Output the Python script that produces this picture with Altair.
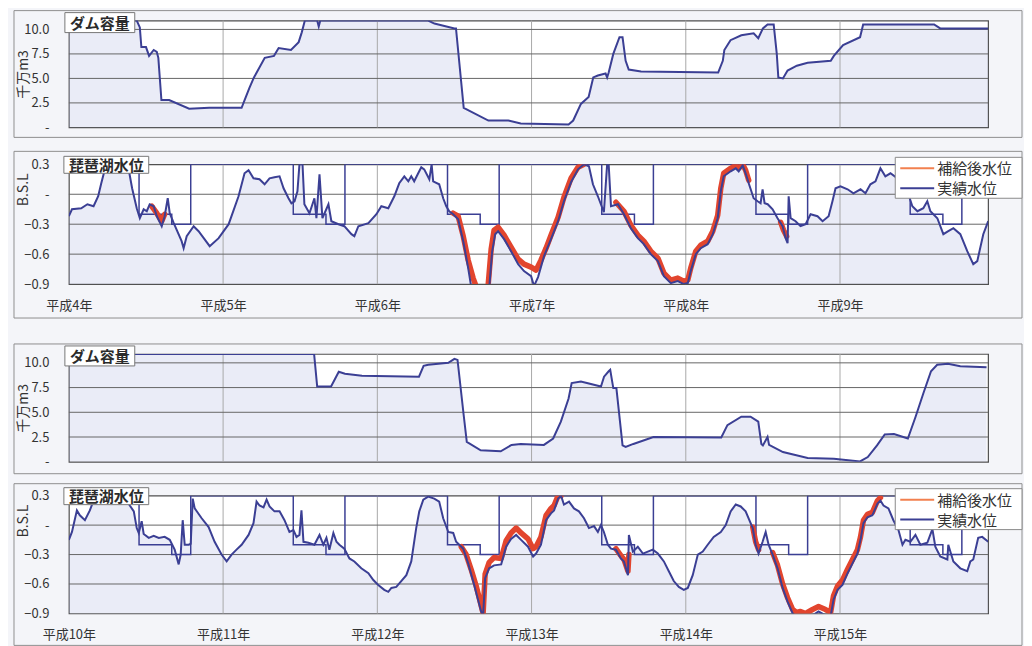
import altair as alt
import pandas as pd

FONT = "Noto Sans CJK JP"
BLUE = "#3b3f94"
RED = "#e2452e"
ORANGE = "#f2804f"
AREA = "#aab2e0"

# x = years elapsed since 1 Jan of the first year of each block
FIRST_YEAR_A = 4    # 平成4年
FIRST_YEAR_B = 10   # 平成10年
YEAR_TICKS = [0, 1, 2, 3, 4, 5]
X_MAX = 5.96
LEGEND_NAMES = ["補給後水位", "実績水位"]
DAM_TICKS = [0, 2.5, 5, 7.5, 10]
LAKE_TICKS = [-0.9, -0.6, -0.3, 0, 0.3]

# ---------- ダム容量 (平成4〜9年) ----------
DAM_A_T = [0.00, 0.44, 0.46, 0.47, 0.50, 0.52, 0.55, 0.57, 0.58, 0.60, 0.65, 0.78, 0.91, 1.12, 1.14,
           1.17, 1.20, 1.27, 1.33, 1.36, 1.44, 1.49, 1.51, 1.53, 1.61, 1.62, 1.63, 2.33, 2.37, 2.50,
           2.51, 2.56, 2.72, 2.85, 2.93, 3.24, 3.27, 3.32, 3.37, 3.40, 3.43, 3.48, 3.49, 3.50, 3.53,
           3.57, 3.59, 3.61, 3.63, 3.71, 4.21, 4.24, 4.25, 4.29, 4.36, 4.44, 4.47, 4.50, 4.53, 4.57,
           4.59, 4.60, 4.63, 4.66, 4.72, 4.79, 4.94, 4.96, 5.02, 5.13, 5.15, 5.61, 5.65, 5.96]
DAM_A_V = [10.9, 10.9, 10.2, 8.2, 8.2, 7.3, 7.9, 7.7, 7.1, 2.8, 2.8, 1.9, 2.0, 2.0, 2.8,
           4.0, 5.1, 7.1, 7.3, 8.1, 7.9, 8.7, 9.7, 10.9, 10.9, 10.3, 10.9, 10.9, 10.6, 10.1,
           10.1, 2.0, 0.7, 0.7, 0.4, 0.3, 0.7, 2.4, 3.1, 5.1, 5.3, 5.5, 5.1, 5.6, 7.5,
           9.2, 9.2, 6.8, 5.9, 5.7, 5.6, 6.8, 7.9, 8.9, 9.4, 9.6, 9.1, 10.1, 10.5, 10.5,
           7.5, 5.1, 5.0, 5.8, 6.3, 6.6, 6.8, 7.3, 8.4, 9.2, 10.5, 10.5, 10.1, 10.1]

# ---------- ダム容量 (平成10〜15年) ----------
DAM_B_T = [0.00, 1.59, 1.61, 1.70, 1.75, 1.79, 1.90, 2.27, 2.30, 2.33, 2.46, 2.50, 2.52, 2.56, 2.58,
           2.67, 2.80, 2.87, 2.93, 3.08, 3.14, 3.19, 3.24, 3.26, 3.32, 3.45, 3.47, 3.50, 3.51, 3.53,
           3.55, 3.59, 3.61, 3.66, 3.79, 4.23, 4.27, 4.36, 4.42, 4.47, 4.49, 4.50, 4.53, 4.54, 4.63,
           4.79, 4.96, 5.13, 5.18, 5.24, 5.29, 5.35, 5.44, 5.49, 5.54, 5.59, 5.63, 5.70, 5.78, 5.95]
DAM_B_V = [10.9, 10.9, 7.6, 7.6, 9.1, 8.9, 8.7, 8.6, 9.7, 9.8, 10.0, 10.4, 10.3, 4.7, 2.0,
           1.15, 1.05, 1.7, 1.8, 1.7, 2.35, 4.05, 6.4, 7.96, 8.1, 7.6, 8.6, 9.15, 9.3, 7.45,
           7.45, 1.65, 1.5, 1.8, 2.5, 2.45, 3.7, 4.55, 4.55, 4.05, 1.8, 1.65, 2.5, 1.7, 0.98,
           0.37, 0.31, 0.03, 0.47, 1.65, 2.75, 2.8, 2.35, 4.55, 6.9, 9.15, 9.8, 9.9, 9.65, 9.55]

# ---------- 琵琶湖水位 実績 (平成4〜9年) ----------
LAKE_A_T = [0.00, 0.02, 0.08, 0.12, 0.16, 0.19, 0.21, 0.23, 0.24, 0.34, 0.38, 0.39, 0.41, 0.44, 0.46,
            0.485, 0.505, 0.524, 0.55, 0.57, 0.602, 0.621, 0.641, 0.654, 0.68, 0.731, 0.744, 0.764, 0.809, 0.841,
            0.913, 0.971, 1.036, 1.10, 1.139, 1.165, 1.197, 1.236, 1.269, 1.301, 1.333, 1.366, 1.392, 1.424, 1.443,
            1.463, 1.482, 1.495, 1.515, 1.527, 1.56, 1.592, 1.605, 1.625, 1.644, 1.683, 1.702, 1.748, 1.786, 1.832,
            1.851, 1.877, 1.942, 1.994, 2.026, 2.071, 2.11, 2.142, 2.175, 2.201, 2.22, 2.239, 2.265, 2.285, 2.304,
            2.337, 2.352, 2.362, 2.401, 2.427, 2.447, 2.466, 2.492, 2.524, 2.557, 2.589, 2.608, 2.673, 2.725, 2.744,
            2.764, 2.783, 2.822, 2.867, 2.913, 2.951, 2.997, 3.016, 3.042, 3.081, 3.126, 3.172, 3.21, 3.256, 3.301,
            3.34, 3.372, 3.398, 3.43, 3.469, 3.49, 3.50, 3.515, 3.56, 3.599, 3.644, 3.689, 3.728, 3.773, 3.819,
            3.858, 3.903, 3.948, 3.987, 4.013, 4.032, 4.065, 4.097, 4.142, 4.175, 4.207, 4.227, 4.246, 4.291, 4.324,
            4.343, 4.369, 4.388, 4.408, 4.44, 4.466, 4.485, 4.498, 4.511, 4.531, 4.563, 4.595, 4.628, 4.647, 4.66,
            4.667, 4.68, 4.712, 4.744, 4.777, 4.809, 4.854, 4.887, 4.926, 4.951, 4.971, 5.003, 5.049, 5.087, 5.133,
            5.165, 5.197, 5.23, 5.262, 5.294, 5.327, 5.372, 5.392, 5.411, 5.437, 5.469, 5.502, 5.54, 5.566, 5.586,
            5.631, 5.67, 5.702, 5.735, 5.78, 5.825, 5.864, 5.89, 5.929, 5.961]
LAKE_A_V = [-0.22, -0.15, -0.14, -0.10, -0.12, -0.02, 0.11, 0.23, 0.32, 0.34, 0.30, 0.23, 0.06, -0.14, -0.24,
            -0.15, -0.17, -0.10, -0.12, -0.22, -0.32, -0.22, -0.04, -0.19, -0.29, -0.47, -0.54, -0.42, -0.32, -0.37,
            -0.52, -0.44, -0.30, -0.02, 0.21, 0.24, 0.16, 0.15, 0.10, 0.16, 0.17, 0.18, 0.06, -0.04, -0.09,
            -0.07, 0.03, 0.30, 0.30, -0.10, -0.19, -0.04, -0.24, 0.20, -0.24, -0.10, -0.27, -0.30, -0.32, -0.40,
            -0.42, -0.32, -0.29, -0.20, -0.12, -0.14, -0.02, 0.11, 0.18, 0.13, 0.18, 0.13, 0.21, 0.27, 0.25,
            0.15, 0.30, 0.13, 0.10, -0.04, -0.12, -0.17, -0.20, -0.25, -0.47, -0.74, -0.92, -1.10, -0.95, -0.58,
            -0.40, -0.37, -0.45, -0.57, -0.70, -0.77, -0.82, -0.92, -0.83, -0.62, -0.45, -0.27, -0.07, 0.12, 0.25,
            0.30, 0.28, 0.10, -0.02, -0.18, 0.30, 0.30, -0.12, -0.10, -0.20, -0.34, -0.44, -0.50, -0.60, -0.67,
            -0.82, -0.89, -0.87, -0.90, -0.89, -0.77, -0.60, -0.54, -0.50, -0.40, -0.24, 0.03, 0.18, 0.23, 0.26,
            0.23, 0.29, 0.21, 0.11, -0.04, -0.07, -0.09, 0.05, -0.09, -0.10, -0.15, -0.24, -0.32, -0.44, -0.49,
            -0.02, -0.24, -0.27, -0.32, -0.30, -0.20, -0.22, -0.27, -0.22, -0.07, 0.06, 0.08, 0.05, 0.01, 0.05,
            0.01, 0.10, 0.13, 0.26, 0.18, 0.21, 0.16, 0.25, 0.18, 0.03, -0.12, -0.17, -0.14, -0.07, -0.17,
            -0.24, -0.40, -0.37, -0.34, -0.40, -0.57, -0.70, -0.67, -0.40, -0.27]

# ---------- 琵琶湖水位 補給後 (平成4〜9年, where it differs) ----------
SUP_A_T = [0.537, 0.57, 0.602, 0.621,
           2.492, 2.524, 2.557, 2.589, 2.621, 2.647, 2.686, 2.718, 2.738, 2.757, 2.783, 2.822, 2.867, 2.913,
           2.951, 2.997, 3.029, 3.061, 3.094, 3.126, 3.172, 3.21, 3.256, 3.301, 3.34,
           3.547, 3.599, 3.644, 3.689, 3.728, 3.773, 3.819, 3.858, 3.903, 3.948, 3.987, 4.013, 4.032, 4.065,
           4.097, 4.142, 4.175, 4.207, 4.227, 4.246, 4.291, 4.324, 4.343, 4.369, 4.388, 4.408,
           4.615, 4.634, 4.654]
SUP_A_V = [-0.12, -0.19, -0.27, -0.20,
           -0.19, -0.22, -0.42, -0.66, -0.84, -0.95, -1.05, -0.92, -0.55, -0.36, -0.33, -0.41, -0.53, -0.65,
           -0.70, -0.73, -0.76, -0.66, -0.54, -0.41, -0.23, -0.03, 0.16, 0.27, 0.30,
           -0.08, -0.17, -0.31, -0.41, -0.47, -0.57, -0.64, -0.79, -0.86, -0.84, -0.87, -0.86, -0.74, -0.57,
           -0.51, -0.47, -0.37, -0.21, 0.06, 0.21, 0.26, 0.29, 0.26, 0.30, 0.24, 0.14,
           -0.28, -0.36, -0.42]
SUP_A_SEG = [1] * 4 + [2] * 25 + [3] * 26 + [4] * 3

# ---------- 琵琶湖水位 実績 (平成10〜15年) ----------
LAKE_B_T = [0.00, 0.02, 0.052, 0.071, 0.104, 0.136, 0.162, 0.194, 0.246, 0.343, 0.395, 0.421, 0.44, 0.453, 0.472,
            0.485, 0.518, 0.55, 0.583, 0.621, 0.654, 0.686, 0.712, 0.725, 0.738, 0.751, 0.777, 0.79, 0.803, 0.816,
            0.861, 0.906, 0.945, 0.99, 1.023, 1.055, 1.087, 1.12, 1.165, 1.197, 1.217, 1.236, 1.262, 1.282, 1.301,
            1.333, 1.366, 1.398, 1.43, 1.456, 1.476, 1.495, 1.508, 1.521, 1.553, 1.592, 1.625, 1.65, 1.67, 1.689,
            1.715, 1.735, 1.754, 1.786, 1.819, 1.851, 1.896, 1.942, 1.974, 2.006, 2.045, 2.071, 2.091, 2.123, 2.155,
            2.188, 2.22, 2.252, 2.272, 2.298, 2.33, 2.369, 2.401, 2.427, 2.46, 2.492, 2.511, 2.557, 2.589, 2.628,
            2.673, 2.686, 2.699, 2.725, 2.757, 2.803, 2.835, 2.867, 2.90, 2.932, 2.977, 3.01, 3.029, 3.061, 3.094,
            3.126, 3.146, 3.172, 3.191, 3.21, 3.243, 3.275, 3.307, 3.34, 3.372, 3.405, 3.43, 3.45, 3.469, 3.495,
            3.515, 3.547, 3.579, 3.599, 3.625, 3.631, 3.657, 3.689, 3.722, 3.754, 3.786, 3.819, 3.858, 3.89, 3.922,
            3.955, 3.987, 4.013, 4.045, 4.078, 4.11, 4.142, 4.181, 4.227, 4.259, 4.291, 4.324, 4.356, 4.388, 4.434,
            4.453, 4.472, 4.498, 4.518, 4.537, 4.563, 4.595, 4.628, 4.66, 4.693, 4.744, 4.822, 4.861, 4.906, 4.939,
            4.958, 4.984, 5.016, 5.049, 5.081, 5.113, 5.133, 5.152, 5.178, 5.21, 5.243, 5.262, 5.282, 5.314, 5.346,
            5.379, 5.405, 5.424, 5.456, 5.489, 5.521, 5.566, 5.599, 5.618, 5.65, 5.696, 5.702, 5.735, 5.78, 5.825,
            5.845, 5.864, 5.896, 5.922, 5.961]
LAKE_B_V = [-0.15, -0.07, 0.15, 0.10, 0.05, 0.15, 0.26, 0.29, 0.33, 0.33, 0.20, 0.14, -0.03, -0.08, 0.04,
            -0.09, -0.13, -0.11, -0.13, -0.12, -0.15, -0.25, -0.40, -0.30, 0.05, -0.20, -0.20, -0.19, 0.27, 0.17,
            0.07, -0.02, -0.17, -0.30, -0.37, -0.30, -0.25, -0.20, -0.10, 0.02, 0.24, 0.20, 0.18, 0.26, 0.19,
            0.14, 0.14, 0.05, -0.07, -0.05, -0.12, -0.10, 0.15, -0.17, -0.18, -0.20, -0.10, -0.20, -0.13, -0.25,
            -0.08, -0.17, -0.20, -0.24, -0.34, -0.37, -0.44, -0.49, -0.56, -0.61, -0.66, -0.68, -0.64, -0.63, -0.57,
            -0.51, -0.37, -0.03, 0.14, 0.26, 0.29, 0.27, 0.24, 0.07, -0.07, -0.08, -0.17, -0.24, -0.39, -0.61,
            -0.88, -0.92, -0.54, -0.44, -0.41, -0.40, -0.22, -0.14, -0.10, -0.15, -0.22, -0.32, -0.29, -0.20, 0.05,
            0.12, 0.15, 0.27, 0.30, 0.21, 0.24, 0.17, 0.14, 0.07, -0.03, -0.01, -0.07, 0.00, -0.07, -0.20,
            -0.24, -0.25, -0.34, -0.37, -0.51, -0.10, -0.27, -0.22, -0.29, -0.27, -0.25, -0.29, -0.37, -0.47, -0.57,
            -0.63, -0.66, -0.64, -0.51, -0.30, -0.27, -0.20, -0.12, -0.07, 0.00, 0.14, 0.21, 0.19, 0.14, -0.03,
            -0.20, -0.29, -0.17, -0.07, -0.20, -0.30, -0.44, -0.64, -0.78, -0.90, -0.98, -0.92, -0.88, -0.92, -0.93,
            -0.76, -0.66, -0.61, -0.49, -0.39, -0.29, -0.15, 0.02, 0.08, 0.10, 0.22, 0.25, 0.20, 0.17, 0.05,
            -0.05, -0.20, -0.15, -0.17, -0.10, -0.20, -0.18, -0.04, -0.22, -0.32, -0.35, -0.20, -0.37, -0.44, -0.47,
            -0.37, -0.35, -0.13, -0.12, -0.17]

# ---------- 琵琶湖水位 補給後 (平成10〜15年, where it differs) ----------
SUP_B_T = [2.544, 2.576, 2.608, 2.641, 2.673, 2.686, 2.699, 2.725, 2.757, 2.803, 2.835, 2.867, 2.90, 2.932,
           2.977, 3.01, 3.029, 3.061, 3.094, 3.126, 3.146, 3.172, 3.191,
           3.547, 3.579, 3.599, 3.625, 3.631,
           4.434, 4.453, 4.472,
           4.563, 4.595, 4.628, 4.66, 4.693, 4.718, 4.744, 4.777, 4.822, 4.861, 4.906, 4.939, 4.958, 4.984,
           5.016, 5.049, 5.081, 5.113, 5.133, 5.152, 5.178, 5.21, 5.243, 5.262]
SUP_B_V = [-0.22, -0.30, -0.45, -0.62, -0.82, -0.90, -0.50, -0.38, -0.33, -0.34, -0.16, -0.08, -0.03, -0.08,
           -0.14, -0.24, -0.22, -0.12, 0.10, 0.17, 0.20, 0.30, 0.30,
           -0.24, -0.31, -0.35, -0.47, -0.30,
           -0.02, -0.17, -0.25,
           -0.28, -0.41, -0.60, -0.74, -0.86, -0.89, -0.88, -0.90, -0.86, -0.83, -0.86, -0.89, -0.72, -0.62,
           -0.56, -0.45, -0.35, -0.25, -0.12, 0.05, 0.11, 0.13, 0.25, 0.28]
SUP_B_SEG = [1] * 23 + [2] * 5 + [3] * 3 + [4] * 24

# ---------- 制限水位 (step line, same each year) ----------
REG_T = [0.0, 0.455, 0.667, 0.79, 1.455, 1.667, 1.79, 2.455, 2.667, 2.79, 3.455, 3.667, 3.79,
         4.455, 4.667, 4.79, 5.455, 5.667, 5.79, 5.96]
REG_V = [0.3, -0.2, -0.3, 0.3, -0.2, -0.3, 0.3, -0.2, -0.3, 0.3, -0.2, -0.3, 0.3,
         -0.2, -0.3, 0.3, -0.2, -0.3, 0.3, 0.3]

W = 921
one = pd.DataFrame({"k": [0]})


def frame(y1, y2):
    return alt.Chart(one).mark_rect(fillOpacity=0, stroke="#8f8f8f", strokeWidth=1).encode(
        x=alt.value(-55), x2=alt.value(955), y=alt.value(y1), y2=alt.value(y2))


def label_box(text, x1, x2, y1, y2):
    box = alt.Chart(one).mark_rect(fill="white", stroke="#777777", strokeWidth=1).encode(
        x=alt.value(x1), x2=alt.value(x2), y=alt.value(y1), y2=alt.value(y2))
    txt = alt.Chart(one).mark_text(text=text, font=FONT, fontSize=15, fontWeight="bold",
                                   color="#2b2b2b", align="center", baseline="middle").encode(
        x=alt.value((x1 + x2) / 2), y=alt.value((y1 + y2) / 2 + 1))
    return [box, txt]


def legend_marks():
    box = alt.Chart(one).mark_rect(fill="white", stroke="#8a8a8a", strokeWidth=1).encode(
        x=alt.value(828), x2=alt.value(955), y=alt.value(-7), y2=alt.value(34))
    marks = [box]
    for i, (name, col) in enumerate(zip(LEGEND_NAMES, [ORANGE, BLUE])):
        yy = 4 + i * 20
        marks.append(alt.Chart(one).mark_rule(color=col, strokeWidth=2).encode(
            x=alt.value(833), x2=alt.value(867), y=alt.value(yy)))
        marks.append(alt.Chart(one).mark_text(text=name, font=FONT, fontSize=15, color="#333333",
                                              align="left", baseline="middle").encode(
            x=alt.value(870), y=alt.value(yy + 1)))
    return marks


def x_enc(labels, first_year):
    if labels:
        axis = alt.Axis(values=YEAR_TICKS, tickCount=len(YEAR_TICKS),
                        labelExpr=f"'平成' + (datum.value + {first_year}) + '年'",
                        labelFont=FONT, labelFontSize=13, labelColor="#333333", labelPadding=15,
                        labelFlush=False, labelOverlap=False, ticks=False, domain=False,
                        grid=False, title=None)
    else:
        axis = alt.Axis(values=YEAR_TICKS, labels=False, ticks=False, domain=False,
                        grid=False, title=None)
    return alt.X("t:Q", scale=alt.Scale(domain=[0, X_MAX], nice=False, zero=False), axis=axis)


def y_enc(domain, values, title, title_y):
    axis = alt.Axis(values=values, tickCount=len(values),
                    labelExpr="abs(datum.value) < 1e-9 ? '-' : format(datum.value, '.1f')",
                    labelFont=FONT, labelFontSize=13, labelColor="#333333", labelPadding=20,
                    labelOverlap=False, labelBound=False,
                    ticks=False, domain=False, grid=False,
                    title=title, titleFont=FONT, titleFontSize=14, titleFontWeight="normal",
                    titleColor="#333333", titleX=-45, titleY=title_y, titleBaseline="middle",
                    titleAlign="center")
    return alt.Y("v:Q", scale=alt.Scale(domain=domain, nice=False, zero=False), axis=axis)


def grid_layers(hvals):
    vdf = pd.DataFrame({"t": YEAR_TICKS[1:]})
    hdf = pd.DataFrame({"v": hvals})
    vgrid = alt.Chart(vdf).mark_rule(color="#a9a9a9", strokeWidth=1).encode(x="t:Q")
    hgrid = alt.Chart(hdf).mark_rule(color="#666666", strokeWidth=1).encode(y="v:Q")
    return [vgrid, hgrid]


def dam_panel(t, v, height, fy):
    df = pd.DataFrame({"t": t, "v": v})
    x = x_enc(False, 0)
    y = y_enc([0, 10.9], DAM_TICKS, "千万m3", height / 2)
    area = alt.Chart(df).mark_area(color=AREA, opacity=0.25, clip=True).encode(x=x, y=y)
    line = alt.Chart(df).mark_line(color=BLUE, strokeWidth=2, clip=True).encode(x=x, y=y)
    layers = [frame(*fy), area] + grid_layers(DAM_TICKS[1:]) + [line] + label_box("ダム容量", -4, 66, -8, 12)
    return alt.layer(*layers).properties(width=W, height=height)


def lake_panel(t, v, st, sv, sseg, first_year, height, fy):
    df = pd.DataFrame({"t": t, "v": v})
    sup = pd.DataFrame({"t": st, "v": sv, "seg": sseg})
    reg = pd.DataFrame({"t": REG_T, "v": REG_V})
    x = x_enc(True, first_year)
    y = y_enc([-0.9, 0.3], LAKE_TICKS, "B.S.L", 25)
    area = alt.Chart(df).mark_area(color=AREA, opacity=0.25, clip=True).encode(
        x=x, y=y, y2=alt.datum(-0.9))
    step = alt.Chart(reg).mark_line(color=BLUE, strokeWidth=1.5, interpolate="step-after",
                                    clip=True).encode(x=x, y=y)
    red = alt.Chart(sup).mark_line(color=RED, strokeWidth=5.5, clip=True, strokeJoin="round",
                                   strokeCap="round").encode(x=x, y=y, detail="seg:N")
    blue = alt.Chart(df).mark_line(color=BLUE, strokeWidth=2, clip=True).encode(x=x, y=y)
    layers = ([frame(*fy), area] + grid_layers(LAKE_TICKS[1:4]) + [step, red, blue]
              + label_box("琵琶湖水位", -5, 80, -8, 9) + legend_marks())
    return alt.layer(*layers).properties(width=W, height=height)


p1 = dam_panel(DAM_A_T, DAM_A_V, 107, (-10, 117))
p2 = lake_panel(LAKE_A_T, LAKE_A_V, SUP_A_T, SUP_A_V, SUP_A_SEG, FIRST_YEAR_A, 120, (-13, 154))
p3 = dam_panel(DAM_B_T, DAM_B_V, 108, (-10, 120))
p4 = lake_panel(LAKE_B_T, LAKE_B_V, SUP_B_T, SUP_B_V, SUP_B_SEG, FIRST_YEAR_B, 118, (-12, 150))

top = alt.vconcat(p1, p2, spacing=10)
bottom = alt.vconcat(p3, p4, spacing=6)

chart = (
    alt.vconcat(top, bottom, spacing=22)
    .properties(padding={"left": 4, "top": 0, "right": 0, "bottom": 0}, background="#f4f5f9")
    .configure_view(stroke="#505050", strokeWidth=1.2, fill="white")
)

chart.save("out.html", embed_options={"renderer": "svg", "actions": False})
